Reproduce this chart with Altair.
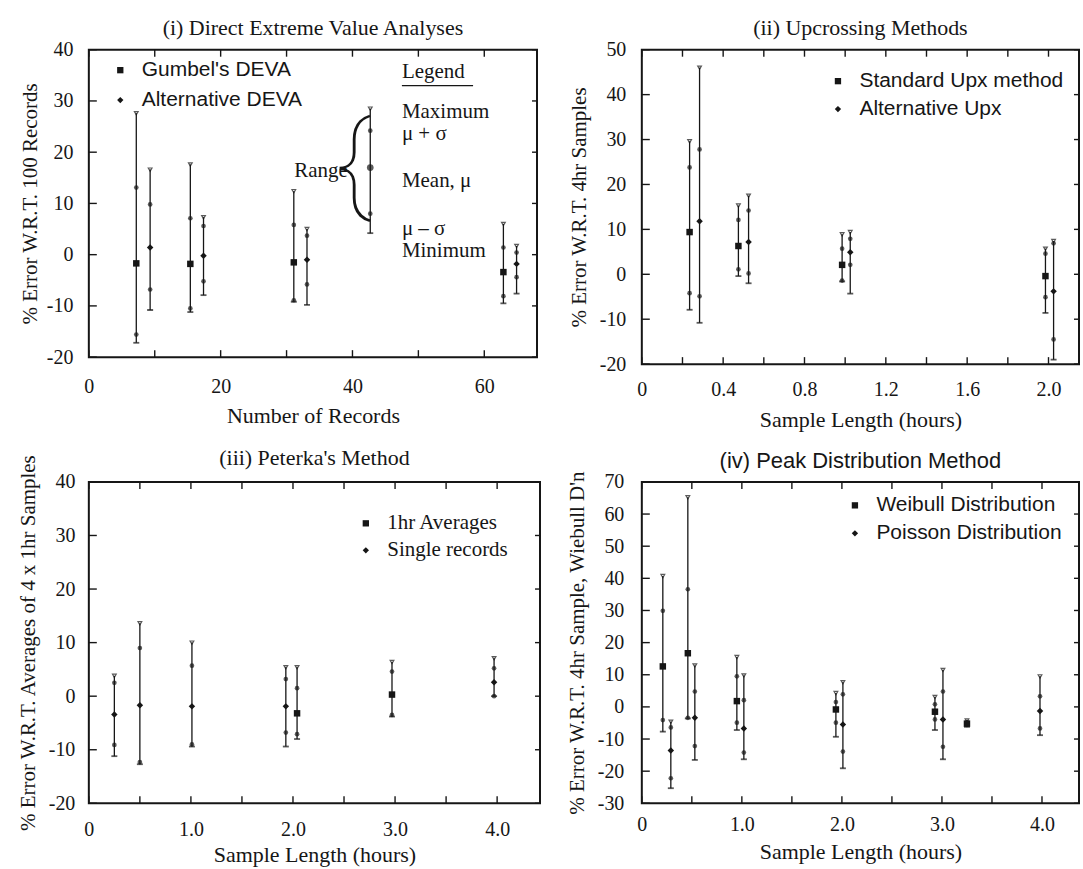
import altair as alt
import pandas as pd

# ---------------- (i) Direct Extreme Value Analyses ----------------
p1_x      = [7.2, 9.3, 15.4, 17.4, 31.1, 33.1, 62.9, 64.9]
p1_series = ["Gumbel's DEVA", "Alternative DEVA"] * 4
p1_max    = [27.6, 16.6, 17.6, 7.3, 12.4, 5.0, 6.0, 1.7]
p1_plus   = [13.1, 9.8, 7.1, 5.6, 5.8, 3.7, 1.4, 0.4]
p1_mean   = [-1.7, 1.4, -1.8, -0.2, -1.5, -1.0, -3.4, -1.8]
p1_minus  = [-15.6, -6.8, -10.5, -5.2, -8.9, -5.8, -8.1, -4.4]
p1_min    = [-17.2, -10.8, -11.2, -7.9, -9.2, -9.8, -9.5, -7.6]

# key bar drawn beside the "Legend" text
key_x, key_max, key_plus, key_mean, key_minus, key_min = [42.7], [28.5], [24.2], [17.0], [8.0], [4.2]
key_text  = ["Maximum", "\u03bc + \u03c3", "Mean, \u03bc", "\u03bc \u2013 \u03c3", "Minimum"]
key_text_y = [27.8, 23.6, 14.3, 5.0, 0.8]

# ---------------- (ii) Upcrossing Methods ----------------
p2_x      = [0.235, 0.284, 0.475, 0.525, 0.985, 1.025, 1.985, 2.025]
p2_series = ["Standard Upx method", "Alternative Upx"] * 4
p2_max    = [29.6, 46.0, 15.3, 17.5, 8.9, 9.4, 5.7, 7.4]
p2_plus   = [23.8, 27.8, 12.1, 14.2, 5.7, 7.9, 4.6, 6.9]
p2_mean   = [9.4, 11.8, 6.3, 7.2, 2.1, 4.9, -0.4, -3.8]
p2_minus  = [-4.2, -4.9, 1.1, 0.2, -1.4, 2.1, -5.1, -14.5]
p2_min    = [-7.9, -10.8, -0.4, -2.0, -1.6, -4.3, -8.6, -19.0]

# ---------------- (iii) Peterka's Method ----------------
p3_x      = [0.25, 0.50, 1.01, 1.93, 2.04, 2.97, 3.97]
p3_series = ["Single records", "Single records", "Single records", "Single records",
             "1hr Averages", "1hr Averages", "Single records"]
p3_max    = [3.8, 13.6, 10.0, 5.4, 5.4, 6.4, 7.1]
p3_plus   = [2.5, 9.0, 5.7, 3.2, 1.5, 4.6, 5.2]
p3_mean   = [-3.4, -1.7, -1.9, -1.9, -3.2, 0.3, 2.6]
p3_minus  = [-9.1, -12.3, -9.0, -6.8, -7.1, -3.5, 0.0]
p3_min    = [-11.2, -12.7, -9.4, -9.4, -8.0, -3.8, 0.0]

# ---------------- (iv) Peak Distribution Method ----------------
p4_x      = [0.21, 0.29, 0.46, 0.53, 0.95, 1.02, 1.94, 2.01, 2.93, 3.01, 3.25, 3.98]
p4_series = ["Weibull Distribution", "Poisson Distribution"] * 5 + ["Weibull Distribution", "Poisson Distribution"]
p4_max    = [40.7, -4.6, 65.2, 12.9, 15.5, 9.8, 4.3, 7.7, 3.1, 11.5, -4.2, 9.5]
p4_plus   = [29.9, -6.4, 36.6, 4.8, 9.5, 2.1, 1.5, 3.9, 0.8, 4.8, -4.8, 3.3]
p4_mean   = [12.6, -13.6, 16.7, -3.4, 1.8, -6.7, -0.8, -5.5, -1.5, -3.9, -5.2, -1.3]
p4_minus  = [-4.1, -22.2, -3.4, -12.2, -4.9, -14.2, -4.9, -13.9, -3.9, -12.4, -5.6, -6.7]
p4_min    = [-7.7, -25.3, -3.6, -16.5, -7.2, -16.3, -9.3, -19.1, -7.2, -16.3, -6.2, -8.8]

SERIF = "Liberation Serif"
SANS = "Liberation Sans"
INK = "#161616"


def frame_df(x, series, mx, plus, mean, minus, mn):
    return pd.DataFrame({"x": x, "s": series, "max": mx, "plus": plus,
                         "mean": mean, "minus": minus, "min": mn})


def make_panel(df, W, H, title, xdomain, xticks, xlabel_expr, xtitle,
               ydomain, yticks, ytitle, shapes, leg_x, leg_y, leg_font, leg_size, leg_row,
               title_font=SERIF, title_offset=0, ylab_pad=15, ytitle_pad=10, xlab_pad=14,
               xtitle_pad=8, ytitle_size=21, extra=None):
    xaxis = alt.Axis(values=xticks, labelExpr=xlabel_expr, grid=False, ticks=False,
                     domain=False, title=xtitle, labelPadding=xlab_pad, titlePadding=xtitle_pad,
                     labelFlush=False, labelFont=SERIF, labelFontSize=20, labelColor=INK,
                     titleFont=SERIF, titleFontSize=22, titleFontWeight="normal", titleColor=INK)
    yaxis = alt.Axis(values=yticks, labelExpr="'' + datum.value", grid=False, ticks=False,
                     domain=False, title=ytitle, labelPadding=ylab_pad, titlePadding=ytitle_pad,
                     labelFont=SERIF, labelFontSize=20, labelColor=INK,
                     titleFont=SERIF, titleFontSize=ytitle_size, titleFontWeight="normal", titleColor=INK)
    xs = alt.Scale(domain=xdomain, nice=False, zero=False)
    ys = alt.Scale(domain=ydomain, nice=False, zero=False)

    def X(f):
        return alt.X(f, type="quantitative", scale=xs, axis=xaxis)

    def Y(f):
        return alt.Y(f, type="quantitative", scale=ys, axis=yaxis)

    base = alt.Chart(df)
    names = list(dict.fromkeys(shapes.keys()))
    shape_enc = alt.Shape("s:N", scale=alt.Scale(domain=names, range=[shapes[n] for n in names]),
                          legend=alt.Legend(title=None, orient="none", legendX=leg_x, legendY=leg_y,
                                            labelFont=leg_font, labelFontSize=leg_size, labelColor=INK,
                                            labelLimit=400, symbolSize=40,
                                            symbolFillColor=INK, symbolStrokeColor=INK,
                                            rowPadding=leg_row, labelOffset=11, padding=0))

    rule = base.mark_rule(color=INK, strokeWidth=1.3).encode(x=X("x"), y=Y("min"), y2="max")
    cap_top = base.mark_point(shape="triangle-down", size=14, filled=False, color=INK,
                              strokeWidth=1.2).encode(x=X("x"), y=Y("max"))
    cap_bot = base.mark_tick(orient="horizontal", size=6, thickness=1.8, color=INK).encode(
        x=X("x"), y=Y("min"))
    sig = base.transform_fold(["plus", "minus"], as_=["k", "val"]).mark_point(
        filled=True, size=22, color=INK).encode(x=X("x"), y=Y("val"))
    mean = base.mark_point(size=42, filled=True, color=INK, opacity=1).encode(
        x=X("x"), y=Y("mean"), shape=shape_enc)

    tx = pd.DataFrame({"t": xticks})
    ty = pd.DataFrame({"t": yticks})
    tk = dict(color=INK, strokeWidth=1.4)
    t_bot = alt.Chart(tx).mark_rule(**tk).encode(x=X("t"), y=alt.value(H), y2=alt.value(H - 7))
    t_top = alt.Chart(tx).mark_rule(**tk).encode(x=X("t"), y=alt.value(0), y2=alt.value(7))
    t_left = alt.Chart(ty).mark_rule(**tk).encode(y=Y("t"), x=alt.value(0), x2=alt.value(8))
    t_right = alt.Chart(ty).mark_rule(**tk).encode(y=Y("t"), x=alt.value(W), x2=alt.value(W - 5))

    layers = [t_bot, t_top, t_left, t_right, rule, cap_top, cap_bot, sig, mean]
    if extra:
        layers += extra(X, Y)
    return alt.layer(*layers).properties(
        width=W, height=H,
        title=alt.TitleParams(title, font=title_font, fontSize=22, fontWeight="normal",
                              color=INK, offset=title_offset, frame="group"))


def key_layers(X, Y):
    kdf = pd.DataFrame({"x": key_x, "max": key_max, "plus": key_plus, "mean": key_mean,
                        "minus": key_minus, "min": key_min})
    kb = alt.Chart(kdf)
    out = [
        kb.mark_rule(color=INK, strokeWidth=1.3).encode(x=X("x"), y=Y("min"), y2="max"),
        kb.mark_point(shape="triangle-down", size=14, color=INK, strokeWidth=1.2).encode(x=X("x"), y=Y("max")),
        kb.mark_tick(orient="horizontal", size=6, thickness=1.8, color=INK).encode(x=X("x"), y=Y("min")),
        kb.transform_fold(["plus", "minus"], as_=["k", "val"]).mark_point(
            filled=True, size=22, color=INK).encode(x=X("x"), y=Y("val")),
        kb.mark_point(shape="circle", filled=True, size=45, color=INK).encode(x=X("x"), y=Y("mean")),
    ]
    tdf = pd.DataFrame({"t": key_text, "x": [47.5] * len(key_text), "y": key_text_y})
    out.append(alt.Chart(tdf).mark_text(align="left", baseline="middle", font=SERIF,
                                        fontSize=21, color=INK).encode(x=X("x"), y=Y("y"), text="t"))
    ldf = pd.DataFrame({"t": ["Legend"], "x": [47.5], "x2": [58.3], "y": [35.6], "yu": [33.0]})
    lc = alt.Chart(ldf)
    out.append(lc.mark_text(align="left", baseline="middle", font=SERIF, fontSize=21,
                            color=INK).encode(x=X("x"), y=Y("y"), text="t"))
    out.append(lc.mark_rule(color=INK, strokeWidth=1.3).encode(x=X("x"), x2="x2", y=Y("yu")))
    rdf = pd.DataFrame({"t": ["Range"], "x": [39.3], "y": [16.4]})
    out.append(alt.Chart(rdf).mark_text(align="right", baseline="middle", font=SERIF, fontSize=21,
                                        color=INK).encode(x=X("x"), y=Y("y"), text="t"))
    bdf = pd.DataFrame({"t": ["{"], "x": [40.1], "y": [17.0]})
    out.append(alt.Chart(bdf).mark_text(align="center", baseline="middle", font="Roboto", fontSize=108,
                                        fontWeight=100, color=INK).encode(
        x=X("x"), y=Y("y"), text="t"))
    return out


lab_i = "datum.value % 20 == 0 ? '' + datum.value : ''"
lab_ii = "round(datum.value * 10) % 4 == 0 ? (datum.value == 0 ? '0' : format(datum.value, '.1f')) : ''"
lab_h = "round(datum.value * 10) % 10 == 0 ? (datum.value == 0 ? '0' : format(datum.value, '.1f')) : ''"

df1 = frame_df(p1_x, p1_series, p1_max, p1_plus, p1_mean, p1_minus, p1_min)
df2 = frame_df(p2_x, p2_series, p2_max, p2_plus, p2_mean, p2_minus, p2_min)
df3 = frame_df(p3_x, p3_series, p3_max, p3_plus, p3_mean, p3_minus, p3_min)
df4 = frame_df(p4_x, p4_series, p4_max, p4_plus, p4_mean, p4_minus, p4_min)

c1 = make_panel(df1, 449, 308, "(i) Direct Extreme Value Analyses", [0, 68], list(range(0, 61, 10)), lab_i,
                "Number of Records", [-20, 40], list(range(-20, 41, 10)), "% Error W.R.T. 100 Records",
                {"Gumbel's DEVA": "square", "Alternative DEVA": "diamond"}, 21, 10, SANS, 21, 8,
                title_offset=0, ylab_pad=16, ytitle_pad=6, xlab_pad=19, xtitle_pad=9, extra=key_layers)
c2 = make_panel(df2, 438, 315, "(ii) Upcrossing Methods", [0, 2.15], [round(0.2 * i, 1) for i in range(11)],
                lab_ii, "Sample Length (hours)", [-20, 50], list(range(-20, 51, 10)),
                "% Error W.R.T. 4hr Samples",
                {"Standard Upx method": "square", "Alternative Upx": "diamond"}, 186, 21, SANS, 21, 6,
                title_offset=0, ylab_pad=16, ytitle_pad=10, xlab_pad=15, xtitle_pad=10)
c3 = make_panel(df3, 452, 322, "(iii) Peterka's Method", [0, 4.42], [0.5 * i for i in range(9)], lab_h,
                "Sample Length (hours)", [-20, 40], list(range(-20, 41, 10)),
                "% Error W.R.T. Averages of 4 x 1hr Samples",
                {"1hr Averages": "square", "Single records": "diamond"}, 267, 31, SERIF, 21, 5,
                title_offset=-16, ylab_pad=14, ytitle_pad=10, xlab_pad=16, xtitle_pad=5)
c4 = make_panel(df4, 438, 322, "(iv) Peak Distribution Method", [0, 4.37], [0.5 * i for i in range(9)], lab_h,
                "Sample Length (hours)", [-30, 70], list(range(-30, 71, 10)),
                "% Error W.R.T. 4hr Sample, Wiebull D'n",
                {"Weibull Distribution": "square", "Poisson Distribution": "diamond"}, 203, 13, SANS, 21, 6,
                title_font=SANS, title_offset=-2, ylab_pad=18, ytitle_pad=10, xlab_pad=11, xtitle_pad=7)

chart = alt.concat(c1, c2, c3, c4, columns=2, spacing={"row": 118, "column": 102},
                   bounds="flush").resolve_scale(shape="independent").resolve_legend(
    shape="independent").properties(
    padding={"left": 16, "top": 15, "right": 2, "bottom": 0}, background="white"
).configure_view(stroke=INK, strokeWidth=2)

chart.save("out.html", embed_options={"renderer": "svg", "actions": False})
